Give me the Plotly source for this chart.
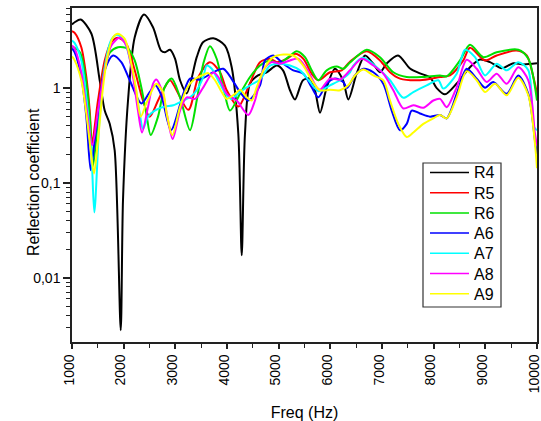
import plotly.graph_objects as go
import numpy as np

# R4 (black)
r4_f = [1000, 1052, 1168, 1374, 1536, 1633, 1730, 1826, 1943, 1987, 2084, 2214, 2394, 2568, 2723, 2800, 2897, 2994, 3091, 3220, 3414, 3535, 3735, 3961, 4091, 4219, 4285, 4348, 4445, 4600, 4768, 4962, 5084, 5219, 5316, 5471, 5606, 5703, 5800, 5930, 6090, 6245, 6348, 6510, 6671, 6826, 6961, 7091, 7310, 7542, 7735, 7929, 8059, 8219, 8446, 8703, 8897, 9090, 9317, 9541, 9735, 10000]
r4_v = [4.7, 4.95, 5.29, 3.77, 1.21, 0.58, 0.42, 0.22, 0.0028, 0.066, 0.74, 3.44, 5.97, 4.39, 2.49, 2.39, 2.54, 2.05, 1.21, 0.88, 2.12, 3.05, 3.36, 2.81, 1.66, 0.33, 0.0173, 0.33, 1.12, 1.36, 1.47, 1.73, 1.54, 0.95, 0.76, 1.21, 1.26, 0.95, 0.55, 1.02, 1.60, 1.21, 0.76, 1.43, 2.21, 1.82, 1.47, 1.82, 2.21, 1.61, 1.43, 1.30, 1.0, 0.86, 1.12, 1.66, 2.0, 1.88, 1.62, 1.83, 1.78, 1.83]

# R5 (red)
r5_f = [1000, 1052, 1180, 1277, 1343, 1387, 1503, 1633, 1761, 1890, 2051, 2214, 2374, 2504, 2665, 2794, 2897, 3251, 3445, 3671, 3865, 3994, 4219, 4412, 4639, 4832, 4962, 5156, 5316, 5477, 5639, 5767, 5994, 6220, 6381, 6704, 6961, 7155, 7348, 7735, 8123, 8316, 8574, 8703, 8994, 9220, 9607, 9801, 9929, 10000]
r5_v = [4.0, 3.83, 2.70, 1.31, 0.58, 0.26, 0.74, 1.96, 3.05, 3.40, 2.93, 1.54, 0.74, 0.50, 0.74, 1.02, 1.21, 0.59, 1.31, 1.88, 1.47, 0.95, 0.64, 1.02, 1.88, 2.04, 1.88, 2.04, 2.30, 2.04, 1.42, 1.21, 1.47, 1.54, 1.90, 2.45, 1.96, 1.47, 1.26, 1.21, 1.31, 1.36, 1.96, 2.66, 1.96, 2.21, 2.49, 2.21, 1.31, 0.88]

# R6 (green)
r6_f = [1000, 1155, 1271, 1348, 1406, 1503, 1620, 1735, 1890, 2084, 2214, 2341, 2438, 2523, 2665, 2794, 2930, 3091, 3284, 3414, 3541, 3671, 3800, 3929, 4058, 4252, 4445, 4639, 4832, 4993, 5187, 5349, 5510, 5639, 5767, 5930, 6123, 6251, 6381, 6704, 6961, 7219, 7477, 7799, 8123, 8252, 8510, 8703, 8961, 9220, 9638, 9832, 10000]
r6_v = [2.75, 2.38, 1.21, 0.46, 0.15, 0.46, 1.54, 2.38, 2.70, 2.60, 1.96, 1.02, 0.54, 0.32, 0.50, 1.02, 1.26, 0.80, 0.36, 0.74, 1.81, 2.77, 2.04, 1.02, 0.58, 0.87, 1.31, 1.73, 1.96, 1.81, 2.12, 2.45, 2.12, 1.54, 1.21, 1.54, 1.69, 1.60, 1.86, 2.54, 2.12, 1.47, 1.31, 1.31, 1.36, 1.33, 1.96, 2.86, 2.12, 2.39, 2.54, 2.04, 0.74]

# A6 (blue)
a6_f = [1000, 1052, 1180, 1277, 1362, 1439, 1536, 1633, 1794, 1954, 2117, 2341, 2504, 2612, 2728, 2916, 3154, 3284, 3477, 3735, 3929, 4252, 4412, 4639, 4735, 4896, 5090, 5283, 5477, 5639, 5767, 5930, 6090, 6251, 6323, 6477, 6639, 6832, 7025, 7188, 7348, 7478, 7575, 7735, 7929, 8123, 8252, 8446, 8639, 8833, 8994, 9154, 9413, 9638, 9832, 9961, 10000]
a6_v = [2.62, 2.39, 1.31, 0.50, 0.136, 0.28, 0.74, 1.54, 2.21, 1.88, 1.21, 0.69, 0.91, 1.07, 0.84, 0.36, 0.87, 1.26, 1.23, 1.47, 1.60, 0.91, 0.74, 1.07, 1.96, 2.21, 1.81, 1.54, 1.42, 1.02, 0.80, 1.11, 1.26, 1.16, 1.0, 1.36, 1.60, 1.47, 1.11, 0.58, 0.36, 0.42, 0.58, 0.54, 0.50, 0.52, 0.48, 0.87, 1.60, 1.26, 1.01, 1.16, 0.87, 1.36, 0.87, 0.28, 0.196]

# A7 (cyan)
a7_f = [1000, 1052, 1180, 1277, 1374, 1432, 1536, 1633, 1761, 1877, 2020, 2181, 2310, 2374, 2471, 2601, 2794, 2961, 3154, 3284, 3414, 3541, 3607, 3704, 3865, 3994, 4091, 4252, 4445, 4639, 4832, 5026, 5219, 5413, 5606, 5767, 5994, 6187, 6381, 6445, 6638, 6897, 7155, 7413, 7606, 7865, 8090, 8187, 8446, 8607, 8800, 8994, 9220, 9413, 9638, 9832, 9942, 10000]
a7_v = [3.18, 2.98, 1.96, 0.80, 0.22, 0.049, 0.50, 1.66, 3.23, 3.65, 3.05, 1.42, 0.54, 0.37, 0.50, 0.58, 0.64, 0.66, 0.74, 0.80, 0.95, 1.31, 1.73, 1.60, 1.11, 0.84, 0.77, 0.91, 1.07, 1.23, 1.73, 1.81, 1.73, 1.54, 1.16, 0.93, 1.07, 1.21, 1.47, 1.73, 2.09, 1.66, 1.21, 0.79, 0.91, 1.07, 1.21, 0.99, 1.42, 2.54, 2.12, 1.36, 1.81, 1.54, 1.88, 1.54, 0.39, 0.36]

# A8 (magenta)
a8_f = [1000, 1052, 1180, 1277, 1393, 1503, 1633, 1761, 1923, 2051, 2181, 2277, 2355, 2471, 2568, 2632, 2761, 2839, 2949, 3091, 3220, 3381, 3541, 3735, 3832, 3994, 4188, 4412, 4542, 4703, 4865, 5026, 5219, 5380, 5542, 5736, 5800, 5994, 6187, 6381, 6607, 6832, 7025, 7219, 7413, 7606, 7800, 7993, 8123, 8252, 8446, 8639, 8833, 9026, 9220, 9413, 9638, 9832, 9961, 10000]
a8_v = [2.81, 2.60, 1.47, 0.63, 0.25, 0.58, 1.54, 2.81, 3.40, 2.81, 1.31, 0.58, 0.34, 0.63, 1.11, 1.23, 0.87, 0.52, 0.29, 0.58, 0.80, 0.77, 1.02, 1.47, 1.31, 0.87, 0.74, 0.52, 0.74, 1.54, 1.88, 1.81, 1.96, 2.04, 1.60, 1.02, 0.96, 1.26, 1.23, 1.54, 2.04, 1.73, 1.42, 0.95, 0.61, 0.66, 0.62, 0.74, 0.77, 0.63, 1.02, 1.99, 1.60, 1.16, 1.42, 1.11, 1.66, 1.21, 0.33, 0.25]

# A9 (yellow)
a9_f = [1000, 1052, 1180, 1277, 1362, 1426, 1503, 1600, 1697, 1794, 1890, 2020, 2148, 2245, 2330, 2438, 2568, 2632, 2761, 2833, 2941, 3091, 3220, 3348, 3510, 3638, 3768, 3897, 3994, 4155, 4252, 4381, 4478, 4575, 4735, 4896, 5090, 5283, 5477, 5639, 5800, 5994, 6187, 6348, 6477, 6638, 6832, 7025, 7155, 7316, 7478, 7606, 7800, 7993, 8123, 8252, 8446, 8639, 8833, 8994, 9187, 9413, 9638, 9832, 9961, 10000]
a9_v = [2.16, 1.96, 1.21, 0.54, 0.22, 0.126, 0.28, 1.02, 2.30, 3.44, 3.74, 3.31, 1.81, 0.95, 0.50, 0.69, 0.99, 1.11, 0.91, 0.54, 0.32, 0.63, 0.99, 1.21, 1.36, 1.44, 1.21, 0.91, 0.77, 0.87, 0.96, 0.80, 0.74, 1.02, 1.66, 2.12, 2.26, 2.21, 1.73, 1.21, 0.95, 0.96, 0.95, 1.07, 1.36, 1.57, 1.36, 1.21, 0.74, 0.42, 0.305, 0.34, 0.42, 0.48, 0.52, 0.48, 0.80, 1.51, 1.21, 0.91, 1.11, 0.84, 1.29, 0.84, 0.26, 0.143]

series_names = ["R4", "R5", "R6", "A6", "A7", "A8", "A9"]
series_colors = ["#000000", "#ff0000", "#00e000", "#0000ff", "#00ffff", "#ff00ff", "#ffff00"]
series_f = [r4_f, r5_f, r6_f, a6_f, a7_f, a8_f, a9_f]
series_v = [r4_v, r5_v, r6_v, a6_v, a7_v, a8_v, a9_v]

x_ticks = [1000, 2000, 3000, 4000, 5000, 6000, 7000, 8000, 9000, 10000]
y_ticks = [0.01, 0.1, 1]
y_tick_text = ["0,01", "0,1", "1"]

FONT = "Arial, Liberation Sans, sans-serif"

fig = go.Figure()
for name, color, f, v in zip(series_names, series_colors, series_f, series_v):
    fig.add_trace(go.Scatter(x=f, y=v, mode="lines", name=name, showlegend=False,
                             line=dict(color=color, width=2, shape="spline", smoothing=0.8)))

minor_y = [m * 10.0 ** e for e in (-3, -2, -1, 0) for m in range(2, 10)]

# plot area in px: x 72..537, y 8..342
W, H = 541, 421
L, R, T, B = 72, 4, 8, 79
pw, ph = W - L - R, H - T - B
def px(x):
    return (x - L) / pw
def py(y):
    return (H - B - y) / ph

# custom legend box (positions in px)
shapes = [dict(type="rect", xref="paper", yref="paper",
               x0=px(423), x1=px(501), y0=py(307), y1=py(163),
               line=dict(color="#333333", width=1.2), fillcolor="white", layer="above")]
annotations = []
for i, (name, color) in enumerate(zip(series_names, series_colors)):
    yy = 172.5 + i * 20.2
    shapes.append(dict(type="line", xref="paper", yref="paper",
                       x0=px(430), x1=px(469), y0=py(yy), y1=py(yy),
                       line=dict(color=color, width=1.5), layer="above"))
    annotations.append(dict(xref="paper", yref="paper", x=px(472), y=py(yy + 0.5),
                            xanchor="left", yanchor="middle", text=name, showarrow=False,
                            font=dict(family=FONT, size=16, color="#000000")))

annotations.append(dict(xref="paper", yref="paper", x=px(33), y=py(182),
                        xanchor="center", yanchor="middle", text="Reflection coefficient",
                        textangle=-90, showarrow=False,
                        font=dict(family=FONT, size=16, color="#000000")))

fig.update_layout(
    width=W, height=H,
    margin=dict(l=L, r=R, t=T, b=B, autoexpand=False),
    paper_bgcolor="white", plot_bgcolor="white",
    font=dict(family=FONT, color="#000000", size=14),
    showlegend=False,
    shapes=shapes,
    annotations=annotations,
)
fig.update_xaxes(
    range=[1000, 10000], tickmode="array", tickvals=x_ticks,
    ticktext=[str(t) for t in x_ticks], tickangle=-90,
    ticklabeloverflow="allow", automargin=False, ticklabelshift=-3,
    ticks="outside", ticklen=5, tickwidth=1.5, tickcolor="#222222",
    showline=True, linecolor="#222222", linewidth=1.5, mirror=True,
    showgrid=False, zeroline=False,
    minor=dict(dtick=500, tick0=1000, ticks="outside", ticklen=4, tickwidth=1.2, tickcolor="#222222"),
    title=dict(text="Freq (Hz)", font=dict(size=16), standoff=18),
    tickfont=dict(size=14),
)
fig.update_yaxes(
    type="log", range=[np.log10(0.0021), np.log10(7.0)], automargin=False,
    tickmode="array", tickvals=y_ticks, ticktext=y_tick_text,
    ticks="outside", ticklen=7, tickwidth=1.5, tickcolor="#222222",
    showline=True, linecolor="#222222", linewidth=1.5, mirror=True,
    showgrid=False, zeroline=False,
    minor=dict(tickmode="array", tickvals=minor_y, ticks="outside", ticklen=4, tickwidth=1.2, tickcolor="#222222"),
    tickfont=dict(size=14),
)

fig.write_html("out.html")
